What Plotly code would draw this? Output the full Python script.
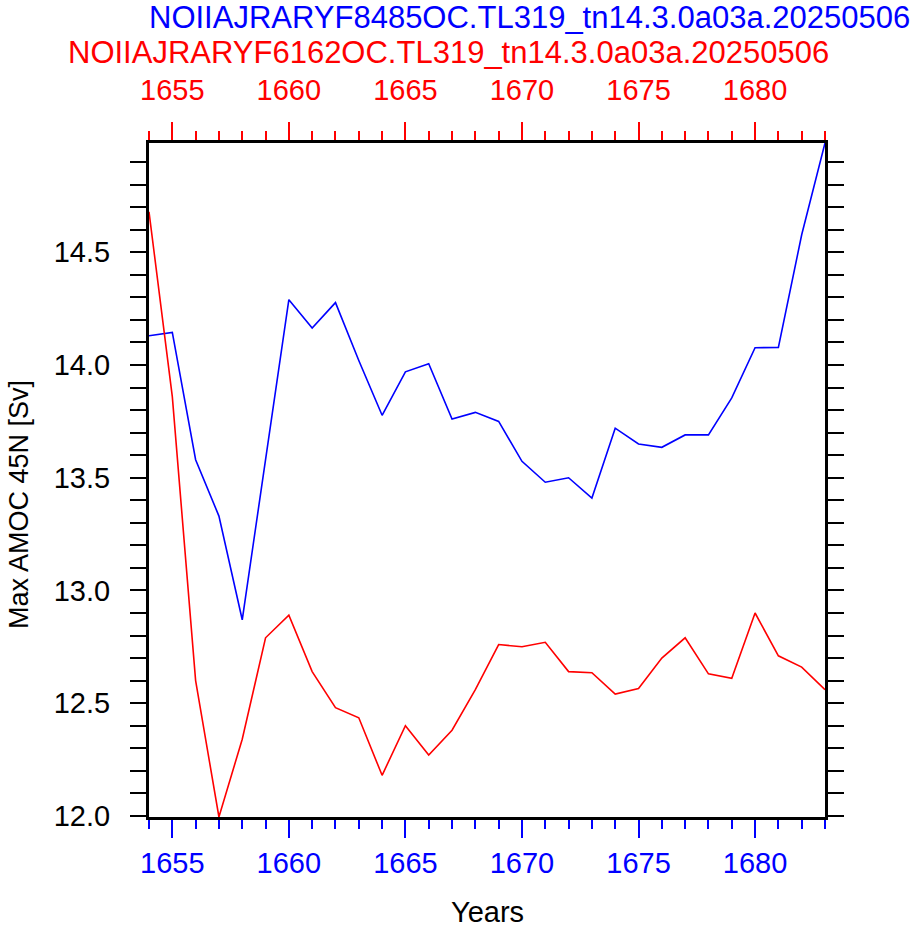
import plotly.graph_objects as go

years = list(range(1654, 1684))
blue_label = "NOIIAJRARYF8485OC.TL319_tn14.3.0a03a.20250506"
red_label = "NOIIAJRARYF6162OC.TL319_tn14.3.0a03a.20250506"
blue_vals = [14.13, 14.145, 13.58, 13.33, 12.87, 13.58, 14.29, 14.164, 14.277, 14.02,
             13.777, 13.97, 14.006, 13.76, 13.79, 13.75, 13.573, 13.48, 13.50, 13.41,
             13.72, 13.65, 13.635, 13.69, 13.69, 13.854, 14.077, 14.078, 14.578, 14.985]
red_vals = [14.68, 13.86, 12.60, 11.995, 12.34, 12.79, 12.89, 12.64, 12.48, 12.435,
            12.18, 12.40, 12.27, 12.38, 12.56, 12.76, 12.75, 12.77, 12.64, 12.635,
            12.54, 12.565, 12.70, 12.79, 12.63, 12.61, 12.90, 12.71, 12.66, 12.56]
x_ticks = [1655, 1660, 1665, 1670, 1675, 1680]
y_ticks = [12.0, 12.5, 13.0, 13.5, 14.0, 14.5]
x_title = "Years"
y_title = "Max AMOC 45N [Sv]"

FONT = "Liberation Sans, Arial, Helvetica, sans-serif"
L, R, T, B = 149, 85, 143, 114
W, H = 910, 931
pw, ph = W - L - R, H - T - B

def px_x(p):
    return (p - L) / pw

def px_y(p):
    return (H - B - p) / ph

ymin = min(min(blue_vals), min(red_vals))
ymax = max(max(blue_vals), max(red_vals))

fig = go.Figure()
fig.add_trace(go.Scatter(x=years, y=blue_vals, mode="lines",
                         line=dict(color="#0000ff", width=1.6), xaxis="x", yaxis="y",
                         showlegend=False))
fig.add_trace(go.Scatter(x=years, y=red_vals, mode="lines",
                         line=dict(color="#ff0000", width=1.6), xaxis="x2", yaxis="y",
                         showlegend=False))

xcommon = dict(range=[years[0], years[-1]], tickmode="array", tickvals=x_ticks,
               ticktext=[str(v) for v in x_ticks], ticks="outside", ticklen=18, tickwidth=2,
               showline=True, linecolor="black", linewidth=3, showgrid=False, zeroline=False)

fig.update_layout(
    width=W, height=H,
    margin=dict(l=L, r=R, t=T, b=B),
    paper_bgcolor="white", plot_bgcolor="white",
    xaxis=dict(**xcommon, side="bottom", tickcolor="#0000ff",
               tickfont=dict(family=FONT, size=29, color="#0000ff"),
               minor=dict(dtick=1, tick0=1654, ticks="outside", ticklen=9, tickwidth=1.5,
                          tickcolor="#0000ff", showgrid=False)),
    xaxis2=dict(**xcommon, side="top", overlaying="x", anchor="y", tickcolor="#ff0000",
                ticklabelstandoff=10,
                tickfont=dict(family=FONT, size=29, color="#ff0000"),
                minor=dict(dtick=1, tick0=1654, ticks="outside", ticklen=9, tickwidth=1.5,
                           tickcolor="#ff0000", showgrid=False)),
    yaxis=dict(range=[ymin, ymax], tickmode="array", tickvals=y_ticks,
               ticktext=["%.1f" % v for v in y_ticks], ticks="outside", ticklen=16, tickwidth=2,
               tickcolor="black", showline=True, linecolor="black", linewidth=3,
               mirror="allticks", showgrid=False, zeroline=False, ticklabelstandoff=14,
               tickfont=dict(family=FONT, size=29, color="black"),
               minor=dict(dtick=0.1, tick0=12.0, ticks="outside", ticklen=8, tickwidth=1.5,
                          tickcolor="black", showgrid=False)),
)

ann = [
    dict(text=blue_label, x=px_x(529), y=px_y(18), font=dict(family=FONT, size=31, color="#0000ff")),
    dict(text=red_label, x=px_x(448), y=px_y(52), font=dict(family=FONT, size=31, color="#ff0000")),
    dict(text=x_title, x=px_x(487), y=px_y(912), font=dict(family=FONT, size=29, color="black")),
    dict(text=y_title, x=px_x(19), y=px_y(505), textangle=-90, font=dict(family=FONT, size=27, color="black")),
]
for a in ann:
    fig.add_annotation(xref="paper", yref="paper", xanchor="center", yanchor="middle",
                       showarrow=False, **a)

fig.write_html("out.html")
